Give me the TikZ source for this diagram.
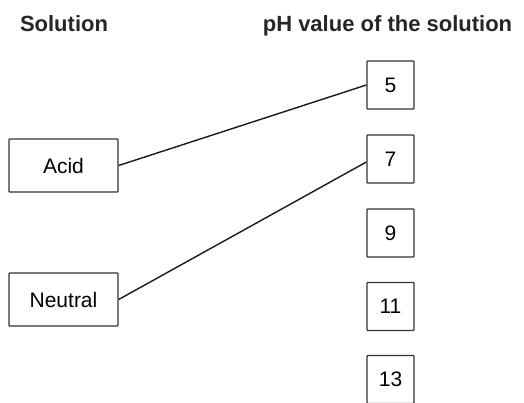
\documentclass[tikz,border=0pt]{standalone}
\usepackage{fontspec}
\setmainfont{Liberation Sans}
\begin{document}
\begin{tikzpicture}[x=1pt,y=-1pt,
  every node/.style={font=\fontsize{21}{25}\selectfont},
  box/.style={draw=black!80, line width=1.3pt, rounded corners=0.8pt, inner sep=0pt, minimum width=109pt, minimum height=53pt},
  numbox/.style={draw=black!80, line width=1.3pt, rounded corners=0.8pt, inner sep=0pt, minimum width=47pt, minimum height=48pt},
  title/.style={font=\fontsize{22}{26}\selectfont\bfseries, text=black!85, anchor=base},
  link/.style={draw=black!90, line width=1.4pt}]
\useasboundingbox (0,0) rectangle (524,402);
\node[title] (t1) at (64,31) {Solution};
\node[title] (t2) at (387.5,31) {pH value of the solution};
\node[box] (acid) at (63.5,165.5) {Acid};
\node[box] (neutral) at (63.5,299.5) {Neutral};
\node[numbox] (n5) at (390.5,85) {5};
\node[numbox] (n7) at (390.5,159) {7};
\node[numbox] (n9) at (390.5,233) {9};
\node[numbox] (n11) at (390.5,306.5) {11};
\node[numbox] (n13) at (390.5,379.5) {13};
\draw[link] (acid.east) -- (n5.west);
\draw[link] (neutral.east) -- ([yshift=-3pt]n7.west);
\end{tikzpicture}
\end{document}
